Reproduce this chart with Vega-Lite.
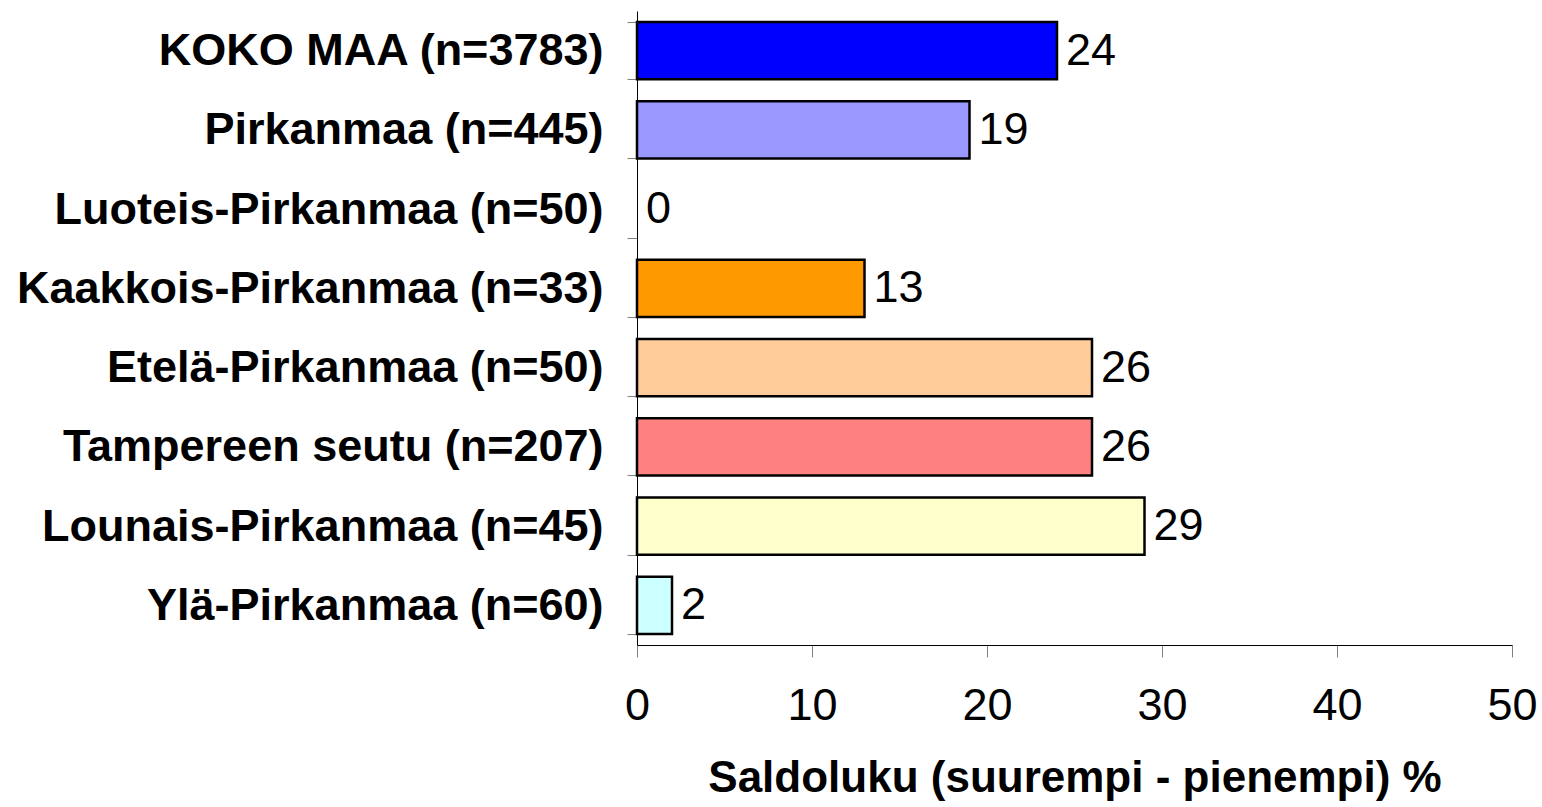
{
  "$schema": "https://vega.github.io/schema/vega-lite/v6.json",
  "autosize": {"type": "none"},
  "width": 875,
  "height": 634,
  "padding": {"left": 637, "top": 11, "right": 30, "bottom": 162},
  "background": "white",
  "config": {"view": {"stroke": null}, "font": "Liberation Sans"},
  "data": {"values": [
    {"region": "KOKO MAA (n=3783)", "value": 24, "color": "#0000FF"},
    {"region": "Pirkanmaa (n=445)", "value": 19, "color": "#9999FF"},
    {"region": "Luoteis-Pirkanmaa (n=50)", "value": 0, "color": "#FFFFFF"},
    {"region": "Kaakkois-Pirkanmaa (n=33)", "value": 13, "color": "#FF9900"},
    {"region": "Etelä-Pirkanmaa (n=50)", "value": 26, "color": "#FFCC99"},
    {"region": "Tampereen seutu (n=207)", "value": 26, "color": "#FF8080"},
    {"region": "Lounais-Pirkanmaa (n=45)", "value": 29, "color": "#FFFFCC"},
    {"region": "Ylä-Pirkanmaa (n=60)", "value": 2, "color": "#CCFFFF"}
  ]},
  "encoding": {
    "y": {
      "field": "region", "type": "nominal", "sort": null,
      "scale": {"paddingInner": 0.28, "paddingOuter": 0.14},
      "axis": {
        "title": null, "tickBand": "extent", "tickSize": 10, "tickColor": "#808080",
        "domainColor": "#000000", "labelFontSize": 45, "labelFontWeight": "bold",
        "labelColor": "#000000", "labelPadding": 24, "labelLimit": 700, "grid": false
      }
    }
  },
  "layer": [
    {
      "mark": {"type": "bar", "stroke": "#000000", "strokeWidth": 2.5},
      "encoding": {
        "x": {
          "field": "value", "type": "quantitative",
          "scale": {"domain": [0, 50], "nice": false},
          "axis": {
            "title": "Saldoluku (suurempi - pienempi) %", "values": [0, 10, 20, 30, 40, 50],
            "grid": false, "tickSize": 12, "tickColor": "#808080", "domainColor": "#000000",
            "labelFontSize": 45, "labelColor": "#000000", "labelPadding": 26, "labelFlush": false,
            "titleFontSize": 44, "titleFontWeight": "bold", "titleColor": "#000000", "titlePadding": 28
          }
        },
        "fill": {"field": "color", "type": "nominal", "scale": null},
        "strokeOpacity": {"condition": {"test": "datum.value === 0", "value": 0}, "value": 1}
      }
    },
    {
      "mark": {"type": "text", "align": "left", "baseline": "middle", "dx": 9, "fontSize": 45, "color": "#000000"},
      "encoding": {
        "x": {"field": "value", "type": "quantitative"},
        "text": {"field": "value", "type": "quantitative"}
      }
    }
  ]
}
